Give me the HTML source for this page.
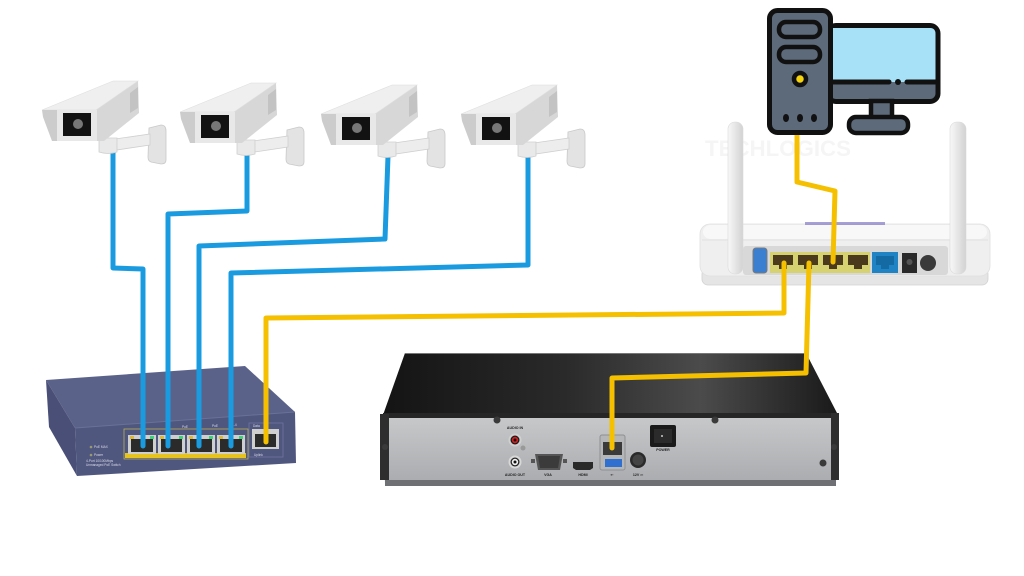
<!DOCTYPE html>
<html><head><meta charset="utf-8"><style>
html,body{margin:0;padding:0;background:#fff;}
svg{display:block;}
text{font-family:"Liberation Sans",sans-serif;}
</style></head><body>
<svg width="1024" height="576" viewBox="0 0 1024 576" xmlns="http://www.w3.org/2000/svg">
<defs>
 <linearGradient id="nvrTop" x1="0" x2="1" y1="0" y2="0">
  <stop offset="0" stop-color="#141414"/>
  <stop offset="0.4" stop-color="#2a2a2a"/>
  <stop offset="0.7" stop-color="#4b4b4b"/>
  <stop offset="1" stop-color="#1a1a1a"/>
 </linearGradient>
 <linearGradient id="nvrFront" x1="0" x2="0" y1="0" y2="1">
  <stop offset="0" stop-color="#c8cacc"/>
  <stop offset="1" stop-color="#a9abae"/>
 </linearGradient>
 <linearGradient id="ant" x1="0" x2="1">
  <stop offset="0" stop-color="#f8f8f8"/><stop offset="1" stop-color="#d2d2d2"/>
 </linearGradient>
 <g id="cam">
  <path d="M149,128 L161,125 Q166,125 166,131 L166,160 Q166,164 161,164 L151,162 Q148,161 148,157 Z" fill="#e3e3e3" stroke="#c9c9c9" stroke-width="0.8"/>
  <path d="M108,140 L150,134 L150,145 L110,151 Z" fill="#ededed" stroke="#cfcfcf" stroke-width="0.8"/>
  <path d="M99,138 L117,138 L117,152 Q108,155 99,152 Z" fill="#e9e9e9" stroke="#cfcfcf" stroke-width="0.8"/>
  <polygon points="96,110 138,81 139,113 104,141 96,141" fill="#d7d7d7"/>
  <polygon points="130,93 138,87 138,108 130,113" fill="#c3c3c3"/>
  <polygon points="42,110 113,81 138,81 96,110" fill="#efefef" stroke="#dedede" stroke-width="0.6"/>
  <polygon points="42,110 57,110 57,141 52,141 43,117" fill="#cccccc"/>
  <rect x="57" y="110" width="40" height="31" fill="#e8e8e8"/>
  <rect x="63" y="113" width="28" height="23" fill="#121212"/>
  <circle cx="78" cy="124" r="5" fill="#777"/>
 </g>
</defs>

<!-- watermark -->
<text x="705" y="156" font-size="22" font-weight="bold" fill="#f5f5f5" textLength="146" lengthAdjust="spacingAndGlyphs">TECHLOGICS</text>

<!-- ROUTER -->
<rect x="702" y="268" width="286" height="17" rx="6" fill="#e5e5e5" stroke="#d2d2d2" stroke-width="0.8"/>
<rect x="700" y="224" width="290" height="52" rx="10" fill="#efefef" stroke="#e0e0e0" stroke-width="0.8"/>
<rect x="703" y="225" width="284" height="14" rx="8" fill="#f8f8f8"/>
<line x1="702" y1="240" x2="988" y2="240" stroke="#e2e2e2" stroke-width="1"/>
<rect x="805" y="222" width="80" height="3" fill="#8a80c8" opacity="0.75"/>
<rect x="743" y="246" width="205" height="29" rx="3" fill="#d8d8d8"/>
<rect x="753" y="248" width="14" height="25" rx="3" fill="#3b7fd0" stroke="#7a7a7a" stroke-width="1"/>
<rect x="770" y="252" width="100" height="21" fill="#d6d272"/>
<g fill="#4b3b1c">
 <rect x="773" y="255" width="20" height="10"/><rect x="779" y="265" width="8" height="4"/>
 <rect x="798" y="255" width="20" height="10"/><rect x="804" y="265" width="8" height="4"/>
 <rect x="823" y="255" width="20" height="10"/><rect x="829" y="265" width="8" height="4"/>
 <rect x="848" y="255" width="20" height="10"/><rect x="854" y="265" width="8" height="4"/>
</g>
<rect x="872" y="252" width="26" height="21" fill="#1f83c4"/>
<rect x="876" y="256" width="18" height="9" fill="#146aa3"/><rect x="881" y="265" width="8" height="4" fill="#146aa3"/>
<rect x="902" y="253" width="15" height="20" fill="#2a2a2a"/>
<circle cx="909.5" cy="262" r="3" fill="#555"/>
<circle cx="928" cy="263" r="8" fill="#3a3a3a"/>
<rect x="728" y="122" width="15" height="152" rx="7" fill="url(#ant)" stroke="#dadada" stroke-width="0.6"/>
<rect x="950" y="122" width="16" height="152" rx="7" fill="url(#ant)" stroke="#dadada" stroke-width="0.6"/>

<!-- SWITCH -->
<polygon points="46,380 245,366 295,412 75,428" fill="#5b628a"/>
<polygon points="46,380 75,428 77,476 49,427" fill="#494f77"/>
<polygon points="75,428 295,412 296,463 77,476" fill="#50577f"/>
<line x1="75" y1="428" x2="295" y2="412" stroke="#6a7199" stroke-width="1"/>
<rect x="124" y="429" width="124" height="30" fill="none" stroke="#b9ad55" stroke-width="0.8"/>
<rect x="125" y="453" width="121" height="5" fill="#e6c31e"/>
<g>
 <rect x="128" y="435" width="28" height="19" fill="#cfcfcf"/><rect x="131" y="439" width="22" height="13" fill="#2b2b2b"/>
 <rect x="158" y="435" width="27" height="19" fill="#cfcfcf"/><rect x="161" y="439" width="21" height="13" fill="#2b2b2b"/>
 <rect x="187" y="435" width="28" height="19" fill="#cfcfcf"/><rect x="190" y="439" width="22" height="13" fill="#2b2b2b"/>
 <rect x="217" y="435" width="28" height="19" fill="#cfcfcf"/><rect x="220" y="439" width="22" height="13" fill="#2b2b2b"/>
 <g fill="#d9b83a"><rect x="130" y="436" width="4" height="3"/><rect x="160" y="436" width="4" height="3"/><rect x="189" y="436" width="4" height="3"/><rect x="219" y="436" width="4" height="3"/><rect x="254" y="430" width="4" height="3"/></g>
 <g fill="#3fd07a"><rect x="150" y="436" width="4" height="3"/><rect x="179" y="436" width="4" height="3"/><rect x="209" y="436" width="4" height="3"/><rect x="239" y="436" width="4" height="3"/><rect x="273" y="430" width="4" height="3"/></g>
 <rect x="249" y="423" width="34" height="34" fill="none" stroke="#6d74a0" stroke-width="0.8"/>
 <rect x="252" y="429" width="27" height="20" fill="#cfcfcf"/><rect x="255" y="434" width="21" height="13" fill="#2b2b2b"/>
</g>
<g font-size="3.2" fill="#d8dbe8">
 <text x="182" y="428">PoE</text><text x="212" y="427">PoE</text><text x="232" y="426">1-4</text>
 <text x="253" y="427">Data</text><text x="254" y="456">Uplink</text>
 <circle cx="91" cy="447" r="1.3" fill="#9a9a70"/><text x="94" y="448">PoE MAX</text>
 <circle cx="91" cy="455" r="1.3" fill="#9a9a70"/><text x="94" y="456">Power</text>
 <text x="86" y="462">4-Port 10/100Mbps</text><text x="86" y="466">Unmanaged PoE Switch</text>
</g>

<!-- NVR -->
<polygon points="405,353 806,353 837,413 383,415" fill="url(#nvrTop)"/>
<line x1="405" y1="353.5" x2="806" y2="353.5" stroke="#777" stroke-width="1"/>
<polygon points="383,414 837,413 836,484 385,484" fill="url(#nvrFront)"/>
<rect x="383" y="413" width="454" height="5" fill="#262626"/>
<rect x="380" y="414" width="9" height="66" fill="#2e2e2e"/>
<rect x="831" y="413" width="8" height="67" fill="#2e2e2e"/>
<rect x="385" y="480" width="451" height="6" fill="#6e7073"/>
<g fill="#3a3a3a">
 <circle cx="497" cy="420" r="3.5"/><circle cx="715" cy="420" r="3.5"/>
 <circle cx="385" cy="447" r="3"/><circle cx="834" cy="447" r="3"/>
 <circle cx="823" cy="463" r="3.5"/>
</g>
<circle cx="515" cy="440" r="6.5" fill="#d0d0d0"/><circle cx="515" cy="440" r="4.5" fill="#1a1a1a"/><circle cx="515" cy="440" r="3.2" fill="#d42020"/><circle cx="515" cy="440" r="1.5" fill="#111"/>
<circle cx="523" cy="448" r="2.5" fill="#999"/>
<circle cx="515" cy="462" r="6.5" fill="#d8d8d8"/><circle cx="515" cy="462" r="4.5" fill="#222"/><circle cx="515" cy="462" r="3.2" fill="#f2f2f2"/><circle cx="515" cy="462" r="1.5" fill="#111"/>
<rect x="531" y="459" width="4" height="4" fill="#555"/><rect x="563" y="459" width="4" height="4" fill="#555"/>
<path d="M535,454 L563,454 L560,470 L538,470 Z" fill="#555"/>
<path d="M538,456 L560,456 L558,468 L540,468 Z" fill="#3b3b3b"/>
<path d="M573,462 L593,462 L593,468 L590,470 L576,470 L573,468 Z" fill="#2a2a2a"/>
<rect x="600" y="435" width="25" height="35" rx="2" fill="#b4b6b8" stroke="#8e9092" stroke-width="1"/>
<rect x="603" y="442" width="19" height="13" fill="#3a3a3a"/>
<rect x="605" y="459" width="17" height="8" fill="#2f6fd0"/>
<circle cx="638" cy="460" r="8" fill="#2a2a2a"/><circle cx="638" cy="460" r="5.5" fill="#444"/>
<rect x="650" y="425" width="26" height="22" rx="2" fill="#1a1a1a"/>
<rect x="654" y="429" width="18" height="14" fill="#2b2b2b"/><circle cx="662" cy="436" r="1" fill="#ccc"/>
<g font-size="3.6" font-weight="bold" fill="#222" text-anchor="middle">
 <text x="515" y="429">AUDIO IN</text><text x="515" y="476">AUDIO OUT</text>
 <text x="548" y="476">VGA</text><text x="583" y="476">HDMI</text>
 <text x="612" y="476">⇠</text><text x="638" y="476">12V ⎓</text><text x="663" y="451">POWER</text>
</g>

<!-- CABLES -->
<g fill="none" stroke="#1a9be0" stroke-width="5" stroke-linejoin="round" stroke-linecap="round">
 <path d="M113,150 V268 L143,269 V446"/>
 <path d="M247,152 V211 L168,214 V446"/>
 <path d="M388,156 L385,239 L199,246 V446"/>
 <path d="M528,156 V265 L231,273 V446"/>
</g>
<g fill="none" stroke="#f4c000" stroke-width="5" stroke-linejoin="round" stroke-linecap="round">
 <path d="M266,442 V318 L784,313 V263"/>
 <path d="M809,263 L806,373 L612,378 V448"/>
 <path d="M797,133 V182 L835,191 L833,262"/>
</g>

<!-- CAMERAS -->
<use href="#cam"/>
<use href="#cam" transform="translate(138,2)"/>
<use href="#cam" transform="translate(279,4)"/>
<use href="#cam" transform="translate(419,4)"/>

<!-- COMPUTER -->
<rect x="828" y="25.5" width="110" height="76" rx="8" fill="#5c6a7a" stroke="#111" stroke-width="5"/>
<path d="M830,28 H930 Q935.5,28 935.5,34 V82 H830 Z" fill="#a6e1f8"/>
<line x1="830" y1="82" x2="889" y2="82" stroke="#111" stroke-width="5" stroke-linecap="round"/>
<line x1="907" y1="82" x2="936" y2="82" stroke="#111" stroke-width="5" stroke-linecap="round"/>
<circle cx="898" cy="82" r="3" fill="#111"/>
<rect x="871" y="101" width="21" height="17" fill="#5c6a7a" stroke="#111" stroke-width="4.5"/>
<rect x="849" y="117" width="59" height="16" rx="7" fill="#5c6a7a" stroke="#111" stroke-width="4.5"/>
<rect x="769.5" y="10.5" width="61" height="122" rx="8" fill="#5c6a7a" stroke="#111" stroke-width="5"/>
<rect x="779" y="22" width="41" height="15" rx="7" fill="#5c6a7a" stroke="#111" stroke-width="4.5"/>
<rect x="779" y="47" width="41" height="15" rx="7" fill="#5c6a7a" stroke="#111" stroke-width="4.5"/>
<circle cx="800" cy="79" r="6" fill="#f5d40f" stroke="#111" stroke-width="4.5"/>
<ellipse cx="786" cy="118" rx="3" ry="4" fill="#111"/>
<ellipse cx="800" cy="118" rx="3" ry="4" fill="#111"/>
<ellipse cx="814" cy="118" rx="3" ry="4" fill="#111"/>
</svg>
</body></html>
